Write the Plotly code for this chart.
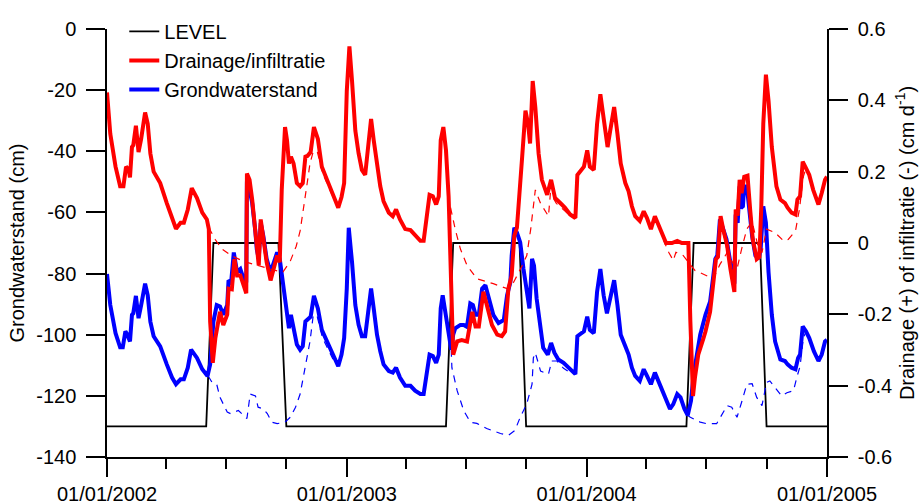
import pandas as pd
import plotly.graph_objects as go

BASE = pd.Timestamp("2002-01-01")

# LEVEL (cm), days since 2002-01-01
level_days = [0, 151, 162, 261, 273, 516, 527, 628, 638, 882, 893, 994, 1004, 1096]
level_vals = [-130, -130, -70, -70, -130, -130, -70, -70, -130, -130, -70, -70, -130, -130]

# Drainage/infiltratie (cm d-1), right axis
red_days = [0, 5, 13, 20, 25, 29, 33, 35, 38, 40, 44, 48, 52, 58, 62, 66, 71, 81, 91, 99,
            105, 112, 117, 123, 129, 137, 145, 152, 155, 157, 161, 165, 170, 172, 177, 183, 185, 190, 194, 198,
            203, 208, 212, 213, 217, 221, 226, 228, 231, 234, 238, 243, 249, 254, 259, 263, 266, 271, 274, 277,
            280, 284, 289, 294, 298, 302, 305, 310, 315, 321, 327, 335, 345, 352, 357, 361, 365, 369, 373, 378,
            383, 388, 393, 397, 402, 406, 411, 416, 421, 429, 435, 440, 446, 454, 462, 469, 477, 482, 486, 491,
            496, 501, 505, 508, 512, 516, 520, 524, 527, 533, 540, 548, 556, 561, 566, 573, 578, 586, 594, 601,
            606, 611, 616, 620, 624, 628, 632, 637, 641, 644, 648, 652, 657, 662, 670, 676, 682, 690, 697, 705,
            713, 716, 721, 726, 731, 735, 741, 746, 751, 756, 762, 766, 772, 777, 782, 789, 794, 799, 804, 811,
            817, 822, 828, 834, 839, 846, 851, 860, 868, 875, 885, 888, 892, 895, 900, 908, 911, 918, 923, 927,
            930, 934, 938, 944, 949, 955, 957, 960, 963, 966, 970, 975, 979, 983, 989, 993, 996, 999, 1003, 1007,
            1012, 1019, 1025, 1032, 1036, 1042, 1048, 1051, 1055, 1059, 1064, 1069, 1075, 1083, 1088, 1093, 1096]
red_vals = [0.422, 0.306, 0.214, 0.159, 0.159, 0.214, 0.206, 0.184, 0.269, 0.274, 0.329, 0.255, 0.292, 0.366, 0.334, 0.251, 0.200, 0.168, 0.112, 0.066,
            0.040, 0.057, 0.057, 0.094, 0.154, 0.126, 0.085, 0.066, 0.039, -0.220, -0.336, -0.266, -0.201, -0.193, -0.230, -0.201, -0.128, -0.130, -0.045, -0.091,
            -0.091, -0.118, -0.141, 0.195, 0.177, 0.122, 0.029, -0.035, -0.063, 0.066, 0.020, -0.054, -0.105, -0.073, -0.035, -0.054, 0.149, 0.325, 0.288, 0.223,
            0.242, 0.223, 0.168, 0.159, 0.168, 0.242, 0.244, 0.255, 0.325, 0.292, 0.214, 0.177, 0.131, 0.099, 0.129, 0.168, 0.426, 0.551, 0.454, 0.315,
            0.251, 0.205, 0.191, 0.269, 0.348, 0.288, 0.214, 0.159, 0.117, 0.085, 0.075, 0.094, 0.066, 0.039, 0.036, 0.020, 0.006, 0.006, 0.057, 0.135,
            0.131, 0.108, 0.131, 0.288, 0.325, 0.260, 0.131, -0.128, -0.313, -0.276, -0.272, -0.276, -0.193, -0.234, -0.234, -0.137, -0.174, -0.230, -0.257, -0.261,
            -0.248, -0.128, -0.091, 0.020, 0.043, 0.131, 0.242, 0.371, 0.334, 0.279, 0.454, 0.381, 0.251, 0.177, 0.135, 0.177, 0.126, 0.112, 0.099, 0.080,
            0.070, 0.191, 0.205, 0.214, 0.260, 0.214, 0.205, 0.334, 0.417, 0.343, 0.269, 0.315, 0.381, 0.306, 0.223, 0.168, 0.145, 0.103, 0.075, 0.062,
            0.089, 0.070, 0.039, 0.075, 0.052, 0.020, 0.0, 0.0, 0.006, 0.0, 0.0, -0.220, -0.429, -0.377, -0.313, -0.267, -0.248, -0.193, -0.118, -0.045,
            -0.039, 0.075, 0.039, -0.008, -0.073, -0.137, 0.094, 0.077, 0.177, 0.140, 0.186, 0.189, 0.094, 0.010, -0.045, -0.039, 0.103, 0.334, 0.472, 0.399,
            0.269, 0.159, 0.122, 0.112, 0.099, 0.085, 0.080, 0.122, 0.131, 0.228, 0.210, 0.191, 0.149, 0.108, 0.140, 0.177, 0.186]

# Grondwaterstand (cm), left axis
blue_days = [0, 5, 13, 20, 24, 28, 31, 35, 38, 40, 44, 48, 52, 58, 62, 66, 71, 81, 91, 99,
             105, 112, 117, 123, 128, 137, 145, 153, 157, 162, 167, 172, 177, 183, 185, 189, 193, 198, 203, 208,
             212, 213, 217, 221, 226, 228, 231, 234, 238, 243, 249, 254, 259, 263, 269, 274, 277, 280, 284, 289,
             294, 298, 302, 305, 310, 315, 321, 327, 335, 345, 352, 357, 361, 365, 368, 373, 378, 383, 388, 393,
             397, 402, 406, 411, 416, 421, 429, 435, 440, 446, 454, 462, 469, 477, 482, 486, 491, 496, 501, 505,
             508, 511, 515, 520, 524, 527, 530, 538, 543, 548, 553, 557, 561, 566, 571, 576, 581, 588, 596, 604,
             609, 614, 616, 620, 624, 629, 634, 639, 643, 647, 650, 654, 660, 664, 671, 676, 681, 687, 695, 703,
             713, 716, 721, 726, 731, 735, 741, 746, 751, 756, 761, 766, 772, 777, 782, 789, 794, 799, 804, 811,
             817, 822, 828, 834, 839, 846, 851, 857, 862, 868, 873, 879, 884, 889, 893, 898, 903, 911, 918, 923,
             926, 929, 933, 938, 943, 948, 953, 955, 957, 960, 963, 965, 968, 970, 974, 978, 982, 987, 992, 995,
             999, 1003, 1007, 1012, 1017, 1025, 1032, 1036, 1042, 1048, 1052, 1055, 1059, 1064, 1069, 1076, 1083, 1088, 1093, 1096]
blue_vals = [-80.1, -90.3, -99.5, -104.1, -104.1, -98.9, -100, -102.2, -93.5, -93, -87.3, -94.6, -90.3, -83.3, -87.1, -95.7, -100.5, -103.8, -109.7, -114,
             -116.2, -114.6, -114.6, -110.8, -104.9, -107.6, -111.3, -113.5, -109.7, -95.7, -90.3, -90.8, -93.5, -90.3, -82.2, -82.8, -73.1, -79.5, -78.5, -81.7,
             -82, -49.9, -52.6, -56.9, -66.6, -72, -75.2, -63.4, -67.7, -75.2, -79.5, -76.3, -73.1, -75.2, -84.9, -93.5, -97.9, -93.5, -97.9, -103.2,
             -104.9, -103.8, -95.7, -95.2, -94.1, -87.3, -91.4, -98.4, -102.2, -107.6, -110.3, -106.5, -101.1, -84.9, -65, -76.3, -90.3, -96.8, -100.5, -100.5,
             -93.5, -84.9, -91.4, -100, -105.4, -109.7, -111.9, -112.4, -110.8, -114, -116.7, -116.7, -118.3, -119.4, -119.4, -112.9, -106.5, -107, -109.2, -106.5,
             -91.4, -87.1, -92.5, -101.1, -104.9, -100, -97.9, -96.8, -96.8, -97.4, -89.8, -90.3, -93.5, -93.5, -84.9, -83.8, -88.2, -93.5, -96.2, -95.2,
             -87.1, -82.8, -74.1, -65, -66.6, -69.8, -78.5, -86, -91.4, -75.2, -77.4, -88.2, -97.9, -104.3, -106.5, -102.7, -105.9, -108.1, -109.2, -110.8,
             -112.9, -100.5, -99.5, -98.9, -94.1, -98.4, -99.5, -86, -78.5, -87.1, -93, -88.7, -82.2, -90.3, -100, -103.8, -106.5, -110.8, -113.5, -115.1,
             -111.3, -113.5, -116.2, -112.4, -115.1, -118.9, -121.6, -124.3, -122.7, -119.4, -120.5, -124.3, -126.4, -121.6, -112.9, -105.4, -100, -93.5, -89.2, -80.6,
             -75.2, -74.1, -62.3, -65.5, -68.8, -75.2, -80.6, -83.3, -60.7, -63.4, -51.5, -58.5, -58, -51.5, -51.5, -59, -67.7, -74.1, -75.2, -72,
             -58, -63.4, -79.5, -93.5, -102.2, -108.1, -108.6, -109.7, -110.8, -111.3, -107.6, -106.5, -97.3, -98.9, -101.1, -105.4, -108.6, -106.5, -102.2, -101.7]

# Dashed: drainage without level control (cm d-1)
red_dash_days = [155, 165, 175, 188, 207, 226, 241, 256, 268, 279, 288, 294, 300, 305, 309, 314, 320, 328, 335, 344, None,
                 523, 530, 538, 548, 563, 588, 609, 619, 632, 639, 645, 648, 652, 660, 672, 675, 684, 700, 713, None,
                 847, 855, 862, 866, 877, 885, 895, 900, 913, 923, 933, 944, 951, 959, 966, 974, 982, 992, 997, 1004,
                 1017, 1030, 1037, 1048, 1054, 1060, 1064]
red_dash_vals = [0.043, 0.009, -0.017, -0.034, -0.051, -0.060, -0.069, -0.077, -0.081, -0.051, -0.009, 0.034, 0.103, 0.171, 0.223, 0.257, 0.257, 0.197, 0.167, 0.129, None,
                 0.099, 0.039, -0.017, -0.063, -0.100, -0.114, -0.128, -0.110, -0.063, -0.035, 0.039, 0.094, 0.149, 0.111, 0.075, 0.140, 0.111, 0.085, 0.070, None,
                 0.009, -0.026, -0.049, -0.026, -0.035, -0.054, -0.077, -0.081, -0.091, -0.100, -0.060, -0.027, -0.051, -0.073, -0.017, 0.039, 0.060, -0.017, -0.027, 0.039,
                 0.029, 0.006, 0.010, 0.034, 0.094, 0.186, 0.210]

# Dashed: groundwater without level control (cm)
blue_dash_days = [154, 160, 167, 172, 183, 188, 200, 213, 218, 226, 230, 238, 244, 251, 259, 271, 279, 287, 294, 302, 309, 314, 320, 328, 335, 344, None,
                  524, 525, 533, 543, 553, 563, 578, 599, 611, 621, 629, 639, 647, 649, 652, 660, 672, 677, 685, 695, 702, None,
                  884, 888, 903, 913, 928, 936, 944, 951, 959, 966, 974, 982, 989, 997, 1004, 1009, 1020, 1027, 1035, 1045, 1050, 1055, 1060, 1064]
blue_dash_vals = [-113.5, -115.6, -116.2, -120.5, -125.3, -125.8, -124.8, -127.4, -119.4, -120, -123.7, -124.3, -125.8, -128.6, -129.1, -128.6, -127, -123.7, -119.4, -110.8, -102.2, -93.5, -94, -101, -104, -108, None,
                  -104.9, -110.8, -118.3, -124.8, -128.6, -129, -130.7, -132.3, -132.9, -131.3, -127, -122.6, -116.2, -107.6, -105.9, -111.9, -112.9, -108.6, -108.6, -111, -112, None,
                  -126.4, -127, -128.6, -129.1, -129.1, -125.9, -123.2, -123.7, -127, -122.1, -116.2, -116, -120.5, -123.2, -115.6, -115.1, -118.3, -120, -119, -118.3, -114, -110.3, -101.1, -98.9]

left_ticks = [0, -20, -40, -60, -80, -100, -120, -140]
left_ticktext = ["0", "-20", "-40", "-60", "-80", "-100", "-120", "-140"]
right_ticks = [0.6, 0.4, 0.2, 0, -0.2, -0.4, -0.6]
right_ticktext = ["0.6", "0.4", "0.2", "0", "-0.2", "-0.4", "-0.6"]
x_ticks = ["2002-01-01", "2003-01-01", "2004-01-01", "2005-01-01"]
x_ticktext = ["01/01/2002", "01/01/2003", "01/01/2004", "01/01/2005"]


def to_dates(days):
    return [None if d is None else BASE + pd.Timedelta(days=d) for d in days]


assert len(red_days) == len(red_vals)
assert len(blue_days) == len(blue_vals)
assert len(red_dash_days) == len(red_dash_vals)
assert len(blue_dash_days) == len(blue_dash_vals)

FONT = "Arial, Liberation Sans, sans-serif"
fig = go.Figure()
fig.add_trace(go.Scatter(x=to_dates(level_days), y=level_vals, mode="lines", name="LEVEL",
                         line=dict(color="black", width=1.8), yaxis="y"))
fig.add_trace(go.Scatter(x=to_dates(red_dash_days), y=red_dash_vals, mode="lines", showlegend=False,
                         line=dict(color="#ff0000", width=1.2, dash="7px,6px"), yaxis="y2", connectgaps=False))
fig.add_trace(go.Scatter(x=to_dates(blue_dash_days), y=blue_dash_vals, mode="lines", showlegend=False,
                         line=dict(color="#0000ff", width=1.2, dash="7px,6px"), yaxis="y", connectgaps=False))
fig.add_trace(go.Scatter(x=to_dates(red_days), y=red_vals, mode="lines", name="Drainage/infiltratie",
                         line=dict(color="#ff0000", width=4), yaxis="y2"))
fig.add_trace(go.Scatter(x=to_dates(blue_days), y=blue_vals, mode="lines", name="Grondwaterstand",
                         line=dict(color="#0000ff", width=4), yaxis="y"))

axis_common = dict(showgrid=False, zeroline=False, showline=True, linecolor="black", linewidth=1.5,
                   ticks="outside", tickcolor="black", tickwidth=1.5, automargin=False,
                   tickfont=dict(family=FONT, size=20, color="black"))

fig.update_layout(
    width=919, height=504,
    margin=dict(l=107, r=92, t=24, b=47),
    paper_bgcolor="white", plot_bgcolor="white",
    font=dict(family=FONT, size=20, color="black"),
    showlegend=True,
    legend=dict(x=0.024, y=1.04, xanchor="left", yanchor="top", bgcolor="rgba(0,0,0,0)",
                font=dict(family=FONT, size=20, color="black"), tracegroupgap=0),
    xaxis=dict(type="date", range=["2002-01-01", "2005-01-01"], tickvals=x_ticks, ticktext=x_ticktext,
               ticklen=18, minor=dict(ticks="outside", ticklen=10, dtick="M3", tick0="2002-01-01",
                                      tickcolor="black", tickwidth=1.5, showgrid=False),
               **axis_common),
    yaxis=dict(range=[-140, 0], tickvals=left_ticks, ticktext=left_ticktext, ticklen=19,
               ticklabelstandoff=6,
               title=dict(text="Grondwaterstand (cm)", font=dict(family=FONT, size=20), standoff=6),
               **axis_common),
    yaxis2=dict(range=[-0.6, 0.6], tickvals=right_ticks, ticktext=right_ticktext, ticklen=19,
                overlaying="y", side="right", ticklabelstandoff=6,
                title=dict(text="Drainage (+) of infiltratie (-) (cm d<sup>-1</sup>)",
                           font=dict(family=FONT, size=20), standoff=8),
                **axis_common),
)

fig.write_html("out.html")
